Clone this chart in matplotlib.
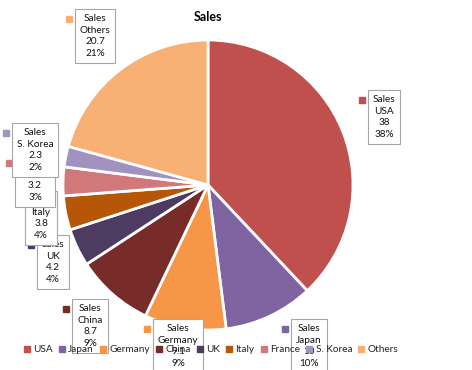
import matplotlib.pyplot as plt
from matplotlib.lines import Line2D

countries = ['USA', 'Japan', 'Germany', 'China', 'UK', 'Italy', 'France', 'S. Korea', 'Others']
sales = [38, 10.0, 9.1, 8.7, 4.2, 3.8, 3.2, 2.3, 20.7]
colors = ['#C0504D', '#8064A2', '#F79646', '#772C2A', '#4D3B62',
          '#B65708', '#D0787A', '#A192BF', '#F9B074']

# label box centres in pixels (x from left, y from top), as Excel placed them
label_pos = [(384, 117), (309, 346), (178, 346), (90, 326), (53, 262),
             (41, 218), (35, 180), (35, 150), (95, 36)]

W, H = 472, 370
fig = plt.figure(figsize=(W / 100, H / 100), dpi=100)
plt.rcParams['font.family'] = ['Lato', 'DejaVu Sans']

cx, cy, r = 208, 185, 145
ax = fig.add_axes([(cx - r) / W, (H - cy - r) / H, 2 * r / W, 2 * r / H])
ax.pie(sales, colors=colors, startangle=90, counterclock=False,
       wedgeprops=dict(edgecolor='white', linewidth=2))
ax.set_xlim(-1, 1)
ax.set_ylim(-1, 1)
ax.axis('off')

fig.text(cx / W, 1 - 17 / H, 'Sales', ha='center', va='center',
         fontsize=9, fontweight='bold', color='#000000')

# legend first so the label boxes sit above it
handles = [Line2D([], [], marker='s', linestyle='', markersize=4.5,
                  markerfacecolor=c, markeredgecolor=c) for c in colors]
fig.legend(handles, countries, loc='center', bbox_to_anchor=(0.447, 1 - 350 / H),
           ncol=9, frameon=False, fontsize=7.2, handlelength=0.6, handletextpad=0.35,
           columnspacing=0.6, labelcolor='#222222')

total = sum(sales)
for name, v, c, (px, py) in zip(countries, sales, colors, label_pos):
    txt = 'Sales\n%s\n%s\n%d%%' % (name, ('%g' % v), round(v / total * 100))
    t = fig.text(px / W, 1 - py / H, txt, ha='center', va='center', fontsize=7.2,
                 linespacing=1.4, color='#111111',
                 bbox=dict(boxstyle='square,pad=0.5', facecolor='white',
                           edgecolor='#A6A6A6', linewidth=0.8))
    fig.canvas.draw()
    bb = t.get_bbox_patch().get_window_extent()
    fig.add_artist(Line2D([(bb.x0 - 6) / W], [(bb.y1 - 10) / H], marker='s',
                          markersize=4, color=c, transform=fig.transFigure))

fig.savefig('out.png', dpi=100)
